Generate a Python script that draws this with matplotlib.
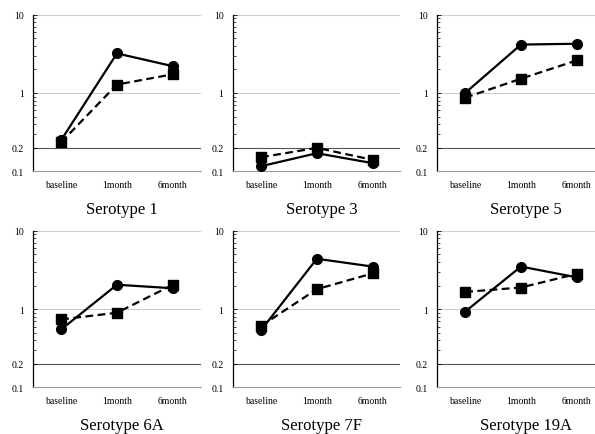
import matplotlib.pyplot as plt
import numpy as np
from matplotlib.ticker import FixedLocator, LogLocator, NullFormatter

# time points
timepoints = ['baseline', '1month', '6month']
serotypes = ['Serotype 1', 'Serotype 3', 'Serotype 5',
             'Serotype 6A', 'Serotype 7F', 'Serotype 19A']

# solid line / circles
solid_vals = [
    [0.25, 3.2, 2.2],
    [0.116, 0.17, 0.127],
    [1.0, 4.15, 4.25],
    [0.55, 2.05, 1.85],
    [0.54, 4.4, 3.5],
    [0.93, 3.5, 2.55],
]
# dashed line / squares
dashed_vals = [
    [0.235, 1.28, 1.73],
    [0.151, 0.199, 0.14],
    [0.87, 1.52, 2.6],
    [0.74, 0.9, 2.04],
    [0.61, 1.8, 2.86],
    [1.66, 1.89, 2.82],
]

ytick_vals = [0.1, 0.2, 1, 10]
ytick_labels = ['0.1', '0.2', '1', '10']

plt.rcParams['font.family'] = ['Liberation Serif', 'DejaVu Serif']

fig = plt.figure(figsize=(5.95, 4.35), dpi=100)

lefts = [0.056, 0.392, 0.735]
bottoms = [0.604, 0.107]
w, h = 0.281, 0.360

x = np.arange(len(timepoints))
for i, name in enumerate(serotypes):
    r, c = divmod(i, 3)
    ax = fig.add_axes([lefts[c], bottoms[r], w, h])
    ax.set_yscale('log')
    ax.set_ylim(0.1, 10)
    ax.set_xlim(-0.5, 2.5)

    ax.axhline(10, color='#cccccc', lw=0.8, zorder=0)
    ax.axhline(1, color='#cccccc', lw=0.8, zorder=0)
    ax.axhline(0.2, color='#555555', lw=0.8, zorder=0)

    ax.plot(x, dashed_vals[i], color='black', lw=1.6, ls=(0, (3.5, 2)),
            marker='s', ms=7, zorder=3)
    ax.plot(x, solid_vals[i], color='black', lw=1.6, ls='-',
            marker='o', ms=7, zorder=4)

    ax.yaxis.set_major_locator(FixedLocator(ytick_vals))
    ax.set_yticklabels(ytick_labels)
    ax.yaxis.set_minor_locator(LogLocator(base=10, subs=np.arange(2, 10)))
    ax.yaxis.set_minor_formatter(NullFormatter())
    ax.tick_params(axis='y', which='major', direction='in', length=3,
                   labelsize=7, pad=7, width=0.6)
    ax.tick_params(axis='y', which='minor', direction='in', length=2,
                   width=0.5)
    ax.set_xticks(x)
    ax.set_xticklabels(timepoints)
    ax.tick_params(axis='x', length=0, labelsize=7, pad=6)

    for s in ['top', 'right']:
        ax.spines[s].set_visible(False)
    ax.spines['bottom'].set_color('#999999')
    ax.spines['bottom'].set_linewidth(0.8)
    ax.spines['left'].set_color('black')
    ax.spines['left'].set_linewidth(0.9)

    ax.text(0.53, -0.24, name, transform=ax.transAxes, ha='center',
            va='center', fontsize=12)

fig.savefig('out.png', dpi=100)
